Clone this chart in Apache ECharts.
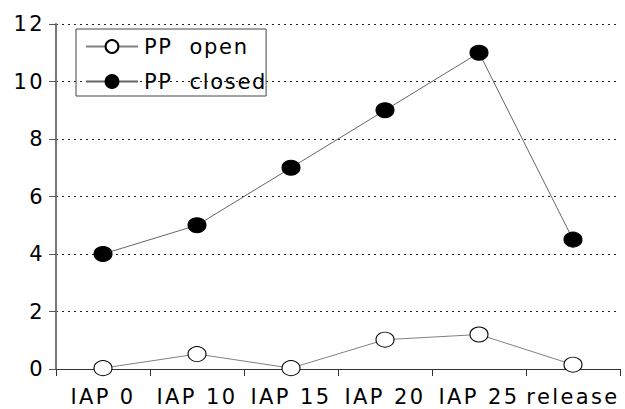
<!DOCTYPE html>
<html><head><meta charset="utf-8">
<script src="https://cdn.jsdelivr.net/npm/echarts@6/dist/echarts.min.js"></script>
<style>
html,body{margin:0;padding:0;background:#fff;}
#chart{width:625px;height:409px;}
#chart text{letter-spacing:2.4px;white-space:pre;}
</style></head>
<body><div id="chart"></div>
<script>
const categories = ["IAP 0", "IAP 10", "IAP 15", "IAP 20", "IAP 25", "release"];
const ppOpen = [0.03, 0.52, 0.03, 1.02, 1.2, 0.15];
const ppClosed = [4, 5, 7, 9, 11, 4.5];
const seriesNames = ["PP  open", "PP  closed"];
const yMin = 0, yMax = 12, yInterval = 2;

const chart = echarts.init(document.getElementById('chart'), null, {renderer: 'svg'});
const font = 'DejaVu Sans';
function tightenLegend() {
  document.querySelectorAll('#chart text').forEach(t => {
    if (seriesNames.includes(t.textContent)) t.style.letterSpacing = '1.7px';
  });
}
chart.on('finished', tightenLegend);
chart.setOption({
  animation: false,
  backgroundColor: '#fff',
  grid: {left: 56, right: 5, top: 24, bottom: 40, containLabel: false},
  legend: {
    left: 76, top: 29, orient: 'vertical',
    borderColor: '#444', borderWidth: 1, borderRadius: 0,
    padding: [7, 16, 4, 9],
    itemWidth: 52, itemHeight: 16, itemGap: 14,
    textStyle: {fontFamily: font, fontSize: 21, color: '#000', padding: [0,0,0,1]},
    data: seriesNames
  },
  xAxis: {
    type: 'category', data: categories, boundaryGap: true,
    axisLine: {lineStyle: {color: '#333', width: 1}},
    axisTick: {show: true, length: 7, lineStyle: {color: '#333'}, alignWithLabel: false},
    axisLabel: {interval: 0, margin: 17, fontFamily: font, fontSize: 21, color: '#000'},
    splitLine: {show: false}
  },
  yAxis: {
    type: 'value', min: yMin, max: yMax, interval: yInterval,
    axisLine: {show: true, lineStyle: {color: '#777', width: 2}},
    axisTick: {show: true, length: 7, lineStyle: {color: '#555'}},
    axisLabel: {margin: 11, fontFamily: font, fontSize: 21, color: '#000'},
    splitLine: {show: true, lineStyle: {color: '#222', type: [2, 4], width: 1}}
  },
  series: [
    {name: seriesNames[0], type: 'line', data: ppOpen,
     symbol: 'circle', symbolSize: [18, 15],
     lineStyle: {color: '#808080', width: 1},
     itemStyle: {color: '#fff', borderColor: '#000', borderWidth: 1}},
    {name: seriesNames[1], type: 'line', data: ppClosed,
     symbol: 'circle', symbolSize: [18, 15],
     lineStyle: {color: '#666', width: 1},
     itemStyle: {color: '#000', borderColor: '#000', borderWidth: 1}}
  ]
});
setTimeout(tightenLegend, 50);
</script></body></html>
